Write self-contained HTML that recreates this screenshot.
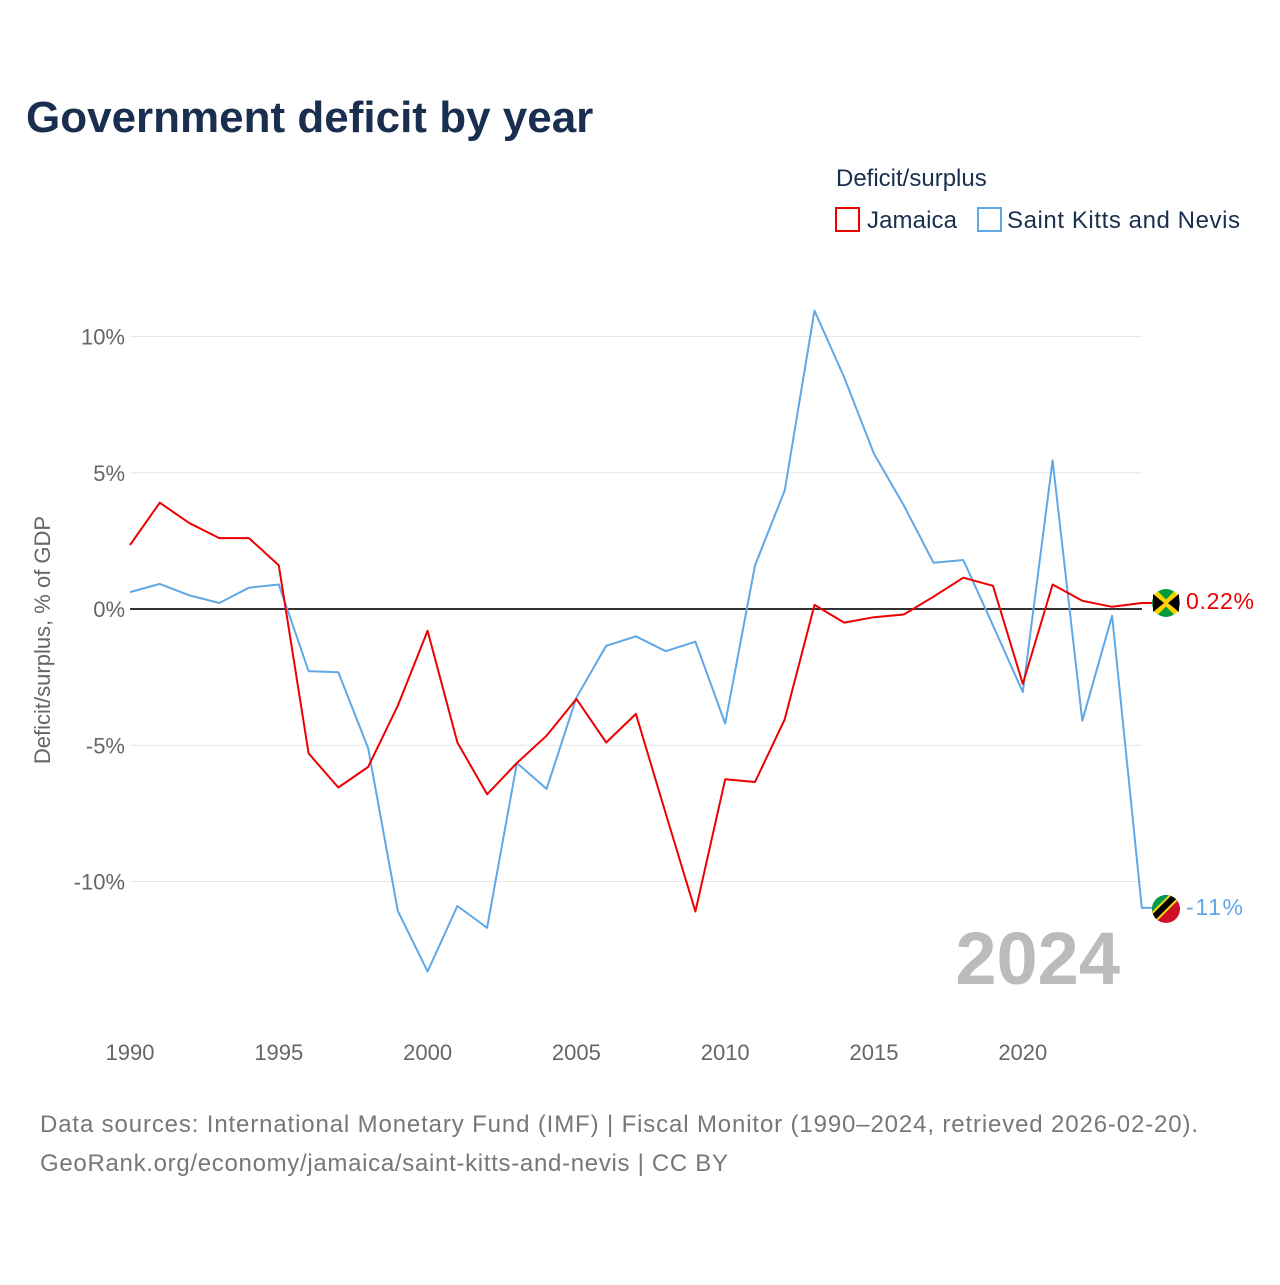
<!DOCTYPE html>
<html><head><meta charset="utf-8">
<style>
body{margin:0;background:#fff;font-family:"Liberation Sans",sans-serif;}
svg text{font-family:"Liberation Sans",sans-serif;}
</style></head>
<body>
<svg id="chart" width="1280" height="1280" xmlns="http://www.w3.org/2000/svg">
<text x="26" y="132" font-size="44" font-weight="bold" fill="#1a2e4f">Government deficit by year</text>
<text x="836" y="186" font-size="24" fill="#1a2e4f">Deficit/surplus</text>
<rect x="836" y="208" width="23" height="23" fill="none" stroke="#ee0000" stroke-width="2"/>
<text x="867" y="228" font-size="24" fill="#1a2e4f" textLength="90">Jamaica</text>
<rect x="978" y="208" width="23" height="23" fill="none" stroke="#5fa8e8" stroke-width="2"/>
<text x="1007" y="228" font-size="24" fill="#1a2e4f" textLength="233">Saint Kitts and Nevis</text>
<text transform="translate(50,640) rotate(-90)" text-anchor="middle" font-size="22" fill="#666">Deficit/surplus, % of GDP</text>
<g id="grid"></g>
<g id="xticks"></g>
<text x="1120" y="984" text-anchor="end" font-size="74" font-weight="bold" fill="#bbb">2024</text>
<g id="series"></g>
<g>
<circle cx="1166" cy="603" r="14" fill="#009b3a"/>
<path d="M1156 593 L1176 613 M1176 593 L1156 613" stroke="#fed100" stroke-width="5"/>
<path d="M1153 594 L1164 603 L1153 612Z M1179 594 L1168 603 L1179 612Z" fill="#000"/>
</g>
<g>
<clipPath id="c2"><circle cx="1166" cy="909" r="14"/></clipPath>
<g clip-path="url(#c2)">
<rect x="1150" y="893" width="32" height="32" fill="#ce1126"/>
<path d="M1150 893 L1182 893 L1150 925Z" fill="#009e49"/>
<path d="M1150 921 L1178 893" stroke="#fcd116" stroke-width="10"/>
<path d="M1150 921 L1178 893" stroke="#000" stroke-width="6"/>
</g></g>
<text x="1186" y="609" font-size="23" fill="#ee0000" textLength="68">0.22%</text>
<text x="1186" y="915" font-size="23" fill="#5fa8e8" textLength="57">-11%</text>
<text x="40" y="1132" font-size="24" fill="#777" textLength="1158">Data sources: International Monetary Fund (IMF) | Fiscal Monitor (1990–2024, retrieved 2026-02-20).</text>
<text x="40" y="1171" font-size="24" fill="#777" textLength="688">GeoRank.org/economy/jamaica/saint-kitts-and-nevis | CC BY</text>
</svg>
<script>
const years=[];for(let y=1990;y<=2024;y++)years.push(y);
const jamaica=[2.35,3.9,3.15,2.6,2.6,1.6,-5.3,-6.55,-5.8,-3.55,-0.8,-4.9,-6.8,-5.65,-4.65,-3.3,-4.9,-3.85,-7.5,-11.1,-6.25,-6.35,-4.05,0.15,-0.5,-0.3,-0.2,0.45,1.15,0.85,-2.75,0.9,0.3,0.08,0.22];
const skn=[0.62,0.92,0.5,0.22,0.78,0.9,-2.28,-2.32,-5.1,-11.08,-13.3,-10.9,-11.7,-5.65,-6.6,-3.25,-1.35,-1.0,-1.55,-1.2,-4.2,1.6,4.35,10.95,8.5,5.7,3.8,1.7,1.8,-0.6,-3.05,5.45,-4.1,-0.25,-10.97];
const yTicks=[10,5,0,-5,-10];
const yTickLabels=["10%","5%","0%","-5%","-10%"];
const xTicks=[1990,1995,2000,2005,2010,2015,2020];
const NS="http://www.w3.org/2000/svg";
const xs=y=>130+(y-1990)*29.76;
const ys=v=>609-v*27.25;
function mk(tag,attrs,parent){const e=document.createElementNS(NS,tag);for(const k in attrs)e.setAttribute(k,attrs[k]);parent.appendChild(e);return e;}
const grid=document.getElementById('grid');
yTicks.forEach((t,i)=>{
 const l=mk('line',{x1:130,x2:1142,y1:ys(t),y2:ys(t),stroke:t===0?'#333':'#e6e6e6','stroke-width':t===0?2:1},grid);
 
 
 const tx=mk('text',{x:125,y:ys(t)+8,'text-anchor':'end','font-size':22,fill:'#666'},grid);
 tx.textContent=yTickLabels[i];
 
 
});
const xt=document.getElementById('xticks');
xTicks.forEach(t=>{
 const tx=mk('text',{x:xs(t),y:1060,'text-anchor':'middle','font-size':22,fill:'#666'},xt);
 tx.textContent=t;
 
 
});
const sg=document.getElementById('series');
function line(vals,color,name){
 let d=vals.map((v,i)=>(i?'L':'M')+xs(years[i]).toFixed(1)+' '+ys(v).toFixed(1)).join(' ');
 d+=' L1155 '+ys(vals[vals.length-1]).toFixed(1);
 const p=mk('path',{d:d,fill:'none',stroke:color,'stroke-width':2,'stroke-linejoin':'round'},sg);
 
 
}
line(skn,'#5fa8e8','line-saint-kitts-and-nevis');
line(jamaica,'#ee0000','line-jamaica');
</script>
</body></html>
